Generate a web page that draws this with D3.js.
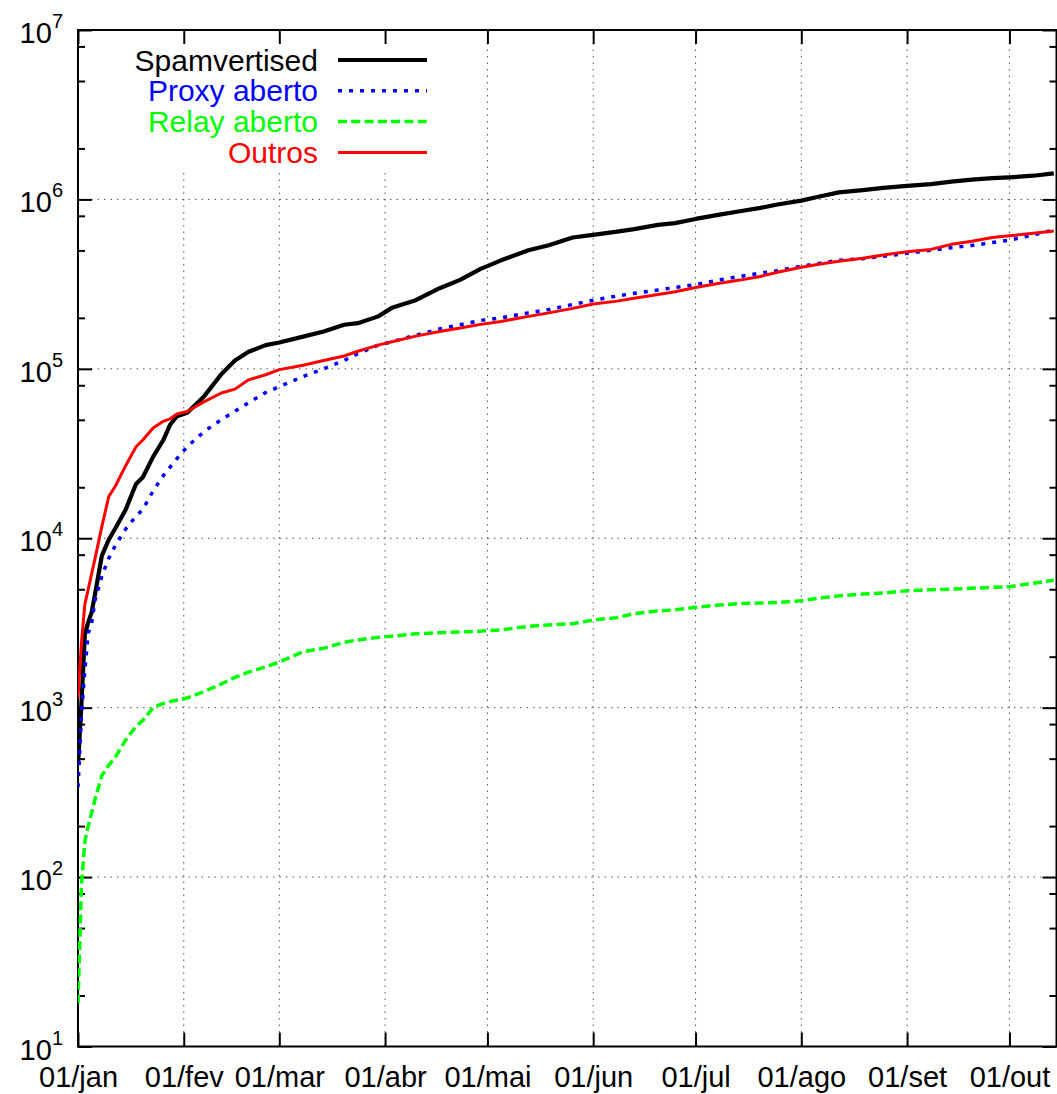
<!DOCTYPE html>
<html>
<head>
<meta charset="utf-8">
<script src="https://cdn.jsdelivr.net/npm/d3@7"></script>
<style>
  body { margin: 0; background: #fff; }
  svg { display: block; font-family: "Liberation Sans", Arial, sans-serif; }
</style>
</head>
<body>
<svg id="chart"></svg>
<script>
// sample dates (2005, non-leap year)
const dates = [
  '2005-01-01','2005-01-02','2005-01-03','2005-01-04','2005-01-05','2005-01-06','2005-01-08','2005-01-10',
  '2005-01-12','2005-01-15','2005-01-18','2005-01-20','2005-01-23','2005-01-26','2005-01-28','2005-01-30',
  '2005-02-02','2005-02-07','2005-02-12','2005-02-16','2005-02-20','2005-02-25',
  '2005-03-01','2005-03-08','2005-03-14','2005-03-20','2005-03-24','2005-03-30',
  '2005-04-03','2005-04-10','2005-04-17','2005-04-23','2005-04-29',
  '2005-05-05','2005-05-13','2005-05-19','2005-05-26',
  '2005-06-01','2005-06-08','2005-06-13','2005-06-20','2005-06-25',
  '2005-07-01','2005-07-08','2005-07-14','2005-07-20','2005-07-25',
  '2005-08-01','2005-08-07','2005-08-12','2005-08-19','2005-08-25',
  '2005-09-01','2005-09-08','2005-09-14','2005-09-20','2005-09-26',
  '2005-10-01','2005-10-08','2005-10-14'
];

const spamvertised = [
  460, 1050, 2700, 3200, 3650, 4700, 7900, 9800, 11500, 14800, 20900, 22900, 30200, 38000, 46800, 52500,
  55000, 69000, 93000, 112000, 126000, 138000,
  143000, 155000, 166000, 182000, 186000, 204000,
  229000, 254000, 299000, 335000, 389000,
  437000, 501000, 537000, 596000,
  617000, 646000, 668000, 708000, 724000,
  767000, 813000, 851000, 891000, 933000,
  984000, 1047000, 1100000, 1135000, 1170000,
  1202000, 1230000, 1274000, 1309000, 1334000,
  1349000, 1380000, 1426000
];

const proxyAberto = [
  340, 890, 1660, 2750, 3160, 4300, 6000, 7600, 9100, 11350, 13500, 14800, 19000, 23400, 26300, 29500,
  34700, 42700, 50100, 56200, 63100, 72400,
  78500, 90200, 100000, 112000, 123000, 138000,
  144500, 158000, 172000, 182000, 193000,
  200000, 214000, 224000, 240000,
  254000, 269000, 279000, 292000, 302000,
  314000, 335000, 351000, 367000, 380000,
  403000, 422000, 437000, 447000, 462000,
  481000, 501000, 519000, 535000, 556000,
  575000, 617000, 661000
];

const relayAberto = [
  18, 89, 162, 200, 240, 288, 398, 457, 513, 646, 776, 841, 1000, 1060, 1085, 1110,
  1140, 1245, 1380, 1510, 1620, 1740,
  1860, 2140, 2240, 2430, 2510, 2600,
  2640, 2730, 2770, 2800, 2830,
  2880, 3020, 3080, 3130,
  3290, 3400, 3590, 3720, 3780,
  3910, 4040, 4110, 4150, 4170,
  4280, 4450, 4570, 4680, 4750,
  4900, 4970, 5010, 5070, 5130,
  5180, 5430, 5650
];

const outros = [
  1150, 2400, 4070, 5000, 6170, 7600, 11750, 17600, 20400, 26900, 34700, 38000, 44700, 49000, 50700, 54100,
  56000, 64000, 72000, 75900, 86100, 92300,
  98900, 105000, 112000, 119000, 127000, 138000,
  144500, 156000, 166000, 174000, 183000,
  190500, 204000, 214000, 227500,
  241500, 251000, 261000, 275000, 285000,
  302000, 320000, 334000, 351000, 372000,
  398000, 417000, 431500, 450000, 470000,
  491000, 507000, 543000, 566000, 596000,
  610000, 631000, 650000
];

const monthTicks = ['2005-01-01','2005-02-01','2005-03-01','2005-04-01','2005-05-01',
  '2005-06-01','2005-07-01','2005-08-01','2005-09-01','2005-10-01'];
const monthLabels = ['01/jan','01/fev','01/mar','01/abr','01/mai','01/jun','01/jul','01/ago','01/set','01/out'];
const yExponents = [1, 2, 3, 4, 5, 6, 7];
const minorFactors = [2, 5, 8];

const width = 1057, height = 1094;
const plotLeft = 78, plotRight = 1056.5, plotTop = 30, plotBottom = 1046.5;

const parse = d3.utcParse('%Y-%m-%d');

const svg = d3.select('#chart')
  .attr('width', width)
  .attr('height', height);

const x = d3.scaleUtc()
  .domain([parse('2005-01-01'), new Date(Date.UTC(2005, 9, 14, 19))])
  .range([plotLeft, plotRight]);

const y = d3.scaleLog()
  .domain([10, 1e7])
  .range([plotBottom, plotTop]);

const majorY = yExponents.map(e => Math.pow(10, e));
const minorY = [];
yExponents.slice(0, -1).forEach(e => minorFactors.forEach(f => minorY.push(f * Math.pow(10, e))));
const tickDates = monthTicks.map(parse);

// grid
const grid = svg.append('g')
  .attr('stroke', '#555')
  .attr('stroke-width', 1)
  .attr('stroke-dasharray', '1.5,5');

grid.selectAll('.gx')
  .data(tickDates.slice(1))
  .enter()
  .append('line')
  .attr('x1', d => x(d)).attr('x2', d => x(d))
  .attr('y1', plotTop).attr('y2', plotBottom);

grid.selectAll('.gy')
  .data(majorY.slice(1, -1))
  .enter()
  .append('line')
  .attr('x1', plotLeft).attr('x2', plotRight)
  .attr('y1', d => y(d)).attr('y2', d => y(d));

// legend background hides the grid
svg.append('rect')
  .attr('x', plotLeft + 1).attr('y', plotTop + 1)
  .attr('width', 365).attr('height', 137)
  .attr('fill', '#fff');

// axes: ticks drawn inward on all four sides
function styleAxis(g) {
  g.select('.domain').remove();
  g.selectAll('.tick line').attr('stroke', '#000').attr('stroke-width', 2);
}

svg.append('g')
  .attr('transform', `translate(0,${plotBottom})`)
  .call(d3.axisBottom(x).tickValues(tickDates).tickSize(-14).tickSizeOuter(0)
    .tickPadding(20).tickFormat((d, i) => monthLabels[i]))
  .call(styleAxis)
  .call(g => g.selectAll('text')
    .attr('font-family', '"Liberation Sans", Arial, sans-serif')
    .attr('font-size', 29)
    .attr('fill', '#000'));

svg.append('g')
  .attr('transform', `translate(0,${plotTop})`)
  .call(d3.axisTop(x).tickValues(tickDates).tickSize(-14).tickSizeOuter(0).tickFormat(''))
  .call(styleAxis);

[[d3.axisLeft, plotLeft], [d3.axisRight, plotRight]].forEach(([axisFn, pos]) => {
  svg.append('g')
    .attr('transform', `translate(${pos},0)`)
    .call(axisFn(y).tickValues(majorY).tickSize(-14).tickSizeOuter(0).tickFormat(''))
    .call(styleAxis);
  svg.append('g')
    .attr('transform', `translate(${pos},0)`)
    .call(axisFn(y).tickValues(minorY).tickSize(-7).tickSizeOuter(0).tickFormat(''))
    .call(styleAxis);
});

// y labels as 10^n
const yLabels = svg.append('g')
  .attr('font-size', 29)
  .attr('fill', '#000');

yExponents.forEach(e => {
  const t = yLabels.append('text')
    .attr('x', 63)
    .attr('y', y(Math.pow(10, e)) + 13)
    .attr('text-anchor', 'end');
  t.append('tspan').text('10');
  t.append('tspan').attr('dy', -15).attr('font-size', 20).text(e);
});

// frame
svg.append('rect')
  .attr('x', plotLeft).attr('y', plotTop)
  .attr('width', plotRight - plotLeft).attr('height', plotBottom - plotTop)
  .attr('fill', 'none')
  .attr('stroke', '#000')
  .attr('stroke-width', 2);

// series
const series = [
  {name: 'Spamvertised', values: spamvertised, color: '#000000', width: 4.2, dash: null},
  {name: 'Proxy aberto', values: proxyAberto, color: '#0000ff', width: 3.5, dash: '4,7'},
  {name: 'Relay aberto', values: relayAberto, color: '#00ff00', width: 3.5, dash: '9,4.3'},
  {name: 'Outros', values: outros, color: '#ff0000', width: 3, dash: null}
];

svg.append('clipPath').attr('id', 'plot-clip')
  .append('rect')
  .attr('x', plotLeft).attr('y', plotTop)
  .attr('width', plotRight - plotLeft).attr('height', plotBottom - plotTop);

const line = d3.line()
  .x(d => x(d.date))
  .y(d => y(d.value));

svg.append('g')
  .attr('clip-path', 'url(#plot-clip)')
  .selectAll('path')
  .data(series)
  .enter()
  .append('path')
  .attr('d', s => line(dates.map((d, i) => ({date: parse(d), value: s.values[i]}))))
  .attr('fill', 'none')
  .attr('stroke', s => s.color)
  .attr('stroke-width', s => s.width)
  .attr('stroke-dasharray', s => s.dash)
  .attr('stroke-linejoin', 'round');

// legend
const legend = svg.append('g')
  .selectAll('g')
  .data(series)
  .enter()
  .append('g')
  .attr('transform', (d, i) => `translate(0,${60 + i * 30.8})`);

legend.append('text')
  .attr('x', 318)
  .attr('y', 10.5)
  .attr('text-anchor', 'end')
  .attr('font-size', 30)
  .attr('fill', d => d.color)
  .text(d => d.name);

legend.append('line')
  .attr('x1', 338).attr('x2', 427)
  .attr('y1', 0).attr('y2', 0)
  .attr('stroke', d => d.color)
  .attr('stroke-width', d => d.width)
  .attr('stroke-dasharray', d => d.dash);
</script>
</body>
</html>
